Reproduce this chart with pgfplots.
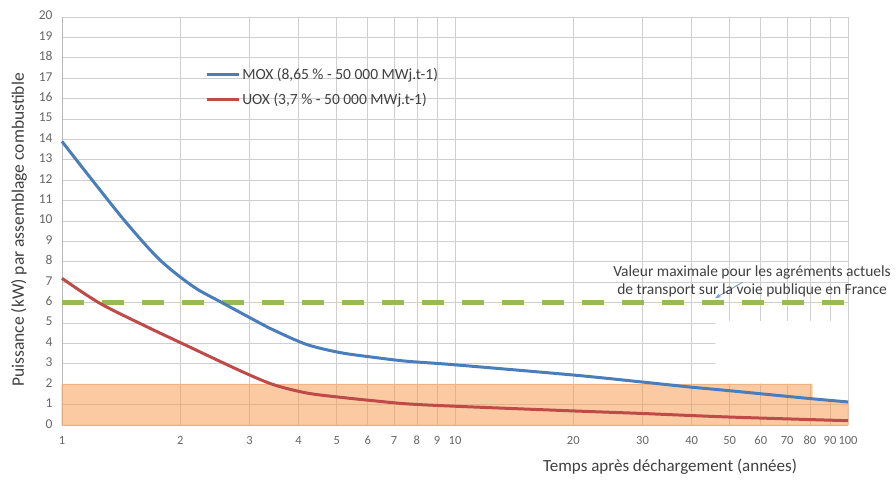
\documentclass[border=0pt]{standalone}
\usepackage{pgfplots}
\pgfplotsset{compat=1.18}
\usepackage{fontspec}
\setmainfont{Carlito}
\usetikzlibrary{arrows.meta}
\definecolor{moxblue}{HTML}{4A7EBB}
\definecolor{uoxred}{HTML}{BE4B48}
\definecolor{limgreen}{HTML}{98B954}
\definecolor{fillor}{HTML}{F79646}
\definecolor{txtgray}{HTML}{404040}
\definecolor{arrowblue}{HTML}{7F9CC5}
\begin{document}
\begin{tikzpicture}
\begin{axis}[name=ax, scale only axis, width=786pt, height=408pt, clip=false,
  xmode=log, log basis x=10, xmin=1, xmax=100, ymin=0, ymax=20,
  xtick={1,2,3,4,5,6,7,8,9,10,20,30,40,50,60,70,80,90,100},
  xticklabels={1,2,3,4,5,6,7,8,9,10,20,30,40,50,60,70,80,90,100},
  minor xtick={},
  ytick={0,1,...,20},
  yticklabels={0,1,2,3,4,5,6,7,8,9,10,11,12,13,14,15,16,17,18,19,20},
  grid=major, major grid style={draw=gray!38, line width=0.8pt},
  axis x line*=bottom, axis y line*=left,
  axis line style={draw=gray!55, line width=0.8pt, -},
  major tick length=0pt,
  tick label style={font=\fontsize{13.5}{15}\selectfont, text=txtgray!80},
  typeset ticklabels with strut,
  xticklabel style={yshift=-6pt, font=\fontsize{12.5}{14}\selectfont},
  yticklabel style={xshift=-6pt},
  legend style={at={(rel axis cs:0.182,0.88)}, anchor=north west, draw=none, fill=none,
    font=\fontsize{15.5}{17}\selectfont, text=txtgray, row sep=8pt, inner sep=0pt},
  legend cell align=left,
  legend image code/.code={\draw[#1] (0pt,0pt) -- (32pt,0pt);},
]
% white overlay artefact of the original picture
\fill[white] (axis cs:46,2.03) -- (axis cs:46,5.1) -- (axis cs:100,5.1) -- (axis cs:100,1.22) -- (axis cs:81,1.32) -- (axis cs:81,2.03) -- cycle;
% orange band
\addplot[forget plot, draw=fillor!70, line width=0.6pt, fill=fillor, fill opacity=0.5] coordinates {(1,0) (1,2) (81,2) (81,1.3) (100,1.15) (100,0)} -- cycle;
% limit line
\addplot[forget plot, limgreen, line width=5pt, dash pattern=on 22pt off 18pt] coordinates {(1,6) (100,6)};
\addplot[moxblue, line width=3pt, smooth] coordinates {
(1,13.9) (1.2,11.95) (1.46,9.9) (1.775,8.09) (2.16,6.78) (2.57,5.97) (3.13,5.08) (3.45,4.66) (4.19,3.95) (5.1,3.55) (6.2,3.32) (7.5,3.13) (10,2.95) (20,2.45) (29.5,2.12) (39.7,1.86) (50,1.68) (78.6,1.31) (100,1.13)};
\addlegendentry{MOX (8,65 \% - 50 000 MWj.t-1)}
\addplot[uoxred, line width=3pt, smooth] coordinates {
(1,7.19) (1.25,5.96) (1.675,4.74) (2,4.04) (2.84,2.66) (3.45,1.98) (4.19,1.57) (5.1,1.36) (6.2,1.19) (7.5,1.04) (10,0.92) (20,0.69) (29.5,0.57) (50,0.39) (100,0.21)};
\addlegendentry{UOX (3,7 \% - 50 000 MWj.t-1)}
\draw[arrowblue, line width=0.9pt, -{Stealth[length=6pt]}] (axis cs:54,7.0) -- (axis cs:45.9,6.22);
\node[align=center, font=\fontsize{15.5}{18}\selectfont, text=txtgray] at (axis cs:57,7.06) {Valeur maximale pour les agréments actuels\\de transport sur la voie publique en France};
\end{axis}
\node[rotate=90, font=\fontsize{17.5}{19}\selectfont, text=txtgray] at ([xshift=-43pt,yshift=-9pt]ax.west) {Puissance (kW) par assemblage combustible};
\node[font=\fontsize{17}{19}\selectfont, text=txtgray] at ([xshift=608pt,yshift=-42pt]ax.south west) {Temps après déchargement (années)};
\useasboundingbox ([shift={(-62pt,-54pt)}]ax.south west) rectangle ([shift={(48pt,17pt)}]ax.north east);
\end{tikzpicture}
\end{document}
